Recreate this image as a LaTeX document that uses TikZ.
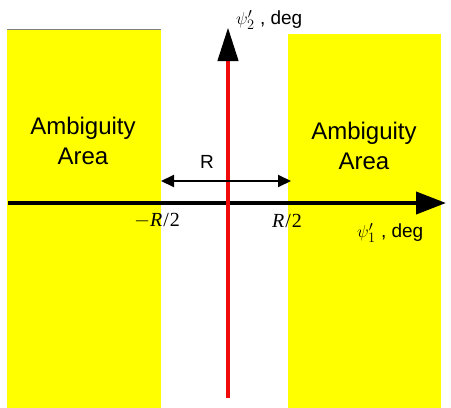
\documentclass[tikz,border=0pt]{standalone}
\usepackage{fontspec}
\setmainfont{Liberation Serif}
\setsansfont{Liberation Sans}
\usetikzlibrary{arrows.meta,positioning,calc}
\definecolor{amb}{RGB}{255,255,0}
\definecolor{ax}{RGB}{240,10,10}

\begin{document}
\begin{tikzpicture}[x=1pt,y=-1pt,every node/.style={font=\sffamily},
  zone/.style={fill=amb,draw=none},
  lbl/.style={font=\sffamily\fontsize{24}{30}\selectfont,align=center},
  tick/.style={font=\rmfamily\fontsize{20}{22}\selectfont},
  axl/.style={font=\sffamily\fontsize{19}{22}\selectfont}]
\useasboundingbox (0,0) rectangle (451,408);
\fill[zone] (7,29) rectangle (161,408);
\fill[zone] (288,34) rectangle (441,408);
\draw[black!50,line width=0.6pt] (7,29) -- (161,29);
\node[lbl] (la) at (83,141) {Ambiguity\\Area};
\node[lbl] (ra) at (364,146) {Ambiguity\\Area};
\coordinate (xw) at (8,203); \coordinate (xe) at (446,203);
\coordinate (ys) at (228,398); \coordinate (yn) at (228,28);
\coordinate (rw) at (161,181); \coordinate (re) at (291,181);
\draw[line width=4pt,-{Triangle[length=30pt,width=22pt]}] (xw) -- (xe);
\draw[ax,line width=3.5pt] (ys) -- (228,60);
\draw[line width=1pt,-{Triangle[length=33pt,width=21pt]}] (228,58) -- (yn);
\draw[line width=2pt,{Triangle[length=13pt,width=12pt]}-{Triangle[length=13pt,width=12pt]}] (rw) -- (re);
\node[axl] (r) at (207,162) {R};
\node[tick] (mr) at (157,221) {$-$\textit{R}\kern1pt/\kern1pt2};
\node[tick] (pr) at (287,221) {\textit{R}\kern1pt/\kern1pt2};
\node[axl,anchor=west,inner sep=0pt] (px) at (357,233) {$\psi_1'$ , deg};
\node[axl,anchor=west,inner sep=0pt] (py) at (236,20) {$\psi_2'$ , deg};
\end{tikzpicture}
\end{document}
